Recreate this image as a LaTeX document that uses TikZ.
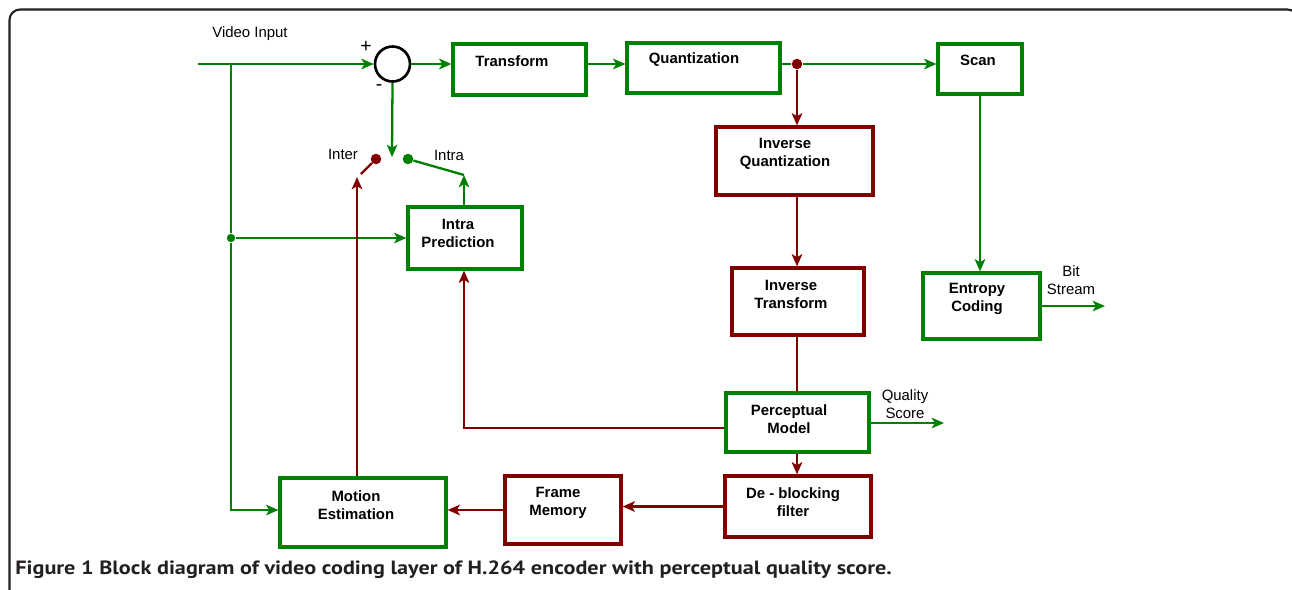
\documentclass[tikz,border=0pt]{standalone}
\usepackage{fontspec}
\setmainfont{Liberation Sans}
\newfontfamily\capfont{PT Sans}
\usetikzlibrary{arrows.meta}
\definecolor{grn}{RGB}{0,128,0}
\definecolor{drd}{RGB}{128,0,0}
\definecolor{frm}{RGB}{35,31,32}
\tikzset{
  wh/.style 2 args={minimum width=#1*0.02cm, minimum height=#2*0.02cm},
  gbox/.style={draw=grn, line width=1.8pt, inner sep=0pt},
  rbox/.style={draw=drd, line width=1.8pt, inner sep=0pt},
  txt/.style={font=\fontsize{8.5}{10.2}\selectfont\bfseries, align=center, inner sep=0pt},
  lbl/.style={font=\fontsize{8.5}{10.2}\selectfont, align=center, inner sep=0pt},
  gline/.style={draw=grn, line width=1.3pt},
  rline/.style={draw=drd, line width=1.3pt},
  arr/.style={-{Stealth[length=7pt,width=6pt,inset=1.8pt]}},
  dot/.style={circle, fill=#1, inner sep=0pt, minimum size=6pt},
}
\begin{document}
\begin{tikzpicture}[x=0.02cm, y=-0.02cm]
    \useasboundingbox (0,0) rectangle (1292,589);
    \begin{scope}
        \clip (0,0) rectangle (1292,589);
        \draw[frm, line width=1.2pt, rounded corners=6pt] (9.5,620) -- (9.5,9.5) -- (1298,9.5) -- (1298,620);
    \end{scope}

    \node[gbox, wh={133}{51}] (TR) at (519.5,69.5) {};
    \node[gbox, wh={153}{50}] (Q)  at (703.5,68) {};
    \node[gbox, wh={84}{50}]  (SC) at (980,69) {};
    \node[rbox, wh={157}{68}] (IQ) at (794.5,161) {};
    \node[rbox, wh={132}{67}] (IT) at (798,301.5) {};
    \node[gbox, wh={117}{66}] (EC) at (981.5,306) {};
    \node[gbox, wh={143}{59}] (PM) at (797.5,422.5) {};
    \node[gbox, wh={114}{62}] (IP) at (465,238) {};
    \node[gbox, wh={166}{69}] (ME) at (363,512.5) {};
    \node[rbox, wh={116}{68}] (FM) at (563,510) {};
    \node[rbox, wh={146}{61}] (DB) at (798,506.5) {};

    \node[txt] (TRt) at (512,61) {Transform};
    \node[txt] (Qt)  at (694,60) {Quantization};
    \node[txt] (SCt) at (978,60) {Scan};
    \node[txt] (IQt) at (785,153.5) {Inverse\\Quantization};
    \node[txt] (ITt) at (791,294) {Inverse\\Transform};
    \node[txt] (ECt) at (977,298.5) {Entropy\\Coding};
    \node[txt] (PMt) at (789,419) {Perceptual\\Model};
    \node[txt] (IPt) at (458,233) {Intra\\Prediction};
    \node[txt] (MEt) at (356,505) {Motion\\Estimation};
    \node[txt] (FMt) at (558,502.5) {Frame\\Memory};
    \node[txt] (DBt) at (793,502.5) {De - blocking\\filter};

    \node[circle, draw=black, line width=1.5pt, minimum size=35*0.02cm, inner sep=0pt] (SUM) at (392.5,64) {};
    \node[dot=drd] (QD) at (797,64) {};
    \node[dot=drd] (ID) at (376,159) {};
    \node[dot=grn] (AD) at (408,159) {};
    \node[dot=grn, minimum size=4.8pt] (J2) at (231,238) {};

    \coordinate (VI) at (198,64);
    \coordinate (J1) at (231,64);
    \coordinate (J3) at (231,510);
    \coordinate (SW) at (392,157);
    \coordinate (K1) at (464,428);
    \coordinate (K3) at (357,177);
    \coordinate (K4) at (361,174);
    \coordinate (K5) at (464,175);
    \coordinate (BS) at (1105,304);
    \coordinate (QS) at (944,423);

    \draw[gline, arr] (VI) -- (SUM.west);
    \draw[gline] (J1) -- (J2);
    \draw[gline, arr] (J2) -- (J3) -- (J3 -| ME.west);
    \draw[gline, arr] (J2) -- (IP.west);
    \draw[gline, arr] (SUM.east) -- (SUM.east -| TR.west);
    \draw[gline, arr] (TR.east |- SUM) -- (Q.west |- SUM);
    \draw[gline] (Q.east |- QD) -- (QD);
    \draw[gline, arr] (QD) -- (QD -| SC.west);
    \draw[gline, arr] (SC.south) -- (SC.south |- EC.north);
    \draw[gline, arr] (EC.east) -- (EC.east -| BS);
    \draw[gline, arr] (PM.east |- QS) -- (QS);
    \draw[gline, arr] (SUM.south) -- (SW);
    \draw[gline] (AD) -- (K5);
    \draw[gline, arr] (IP.north -| K5) -- (K5);

    \draw[rline, arr] (QD) -- (QD |- IQ.north);
    \draw[rline, arr] (IQ.south -| QD) -- (IT.north -| QD);
    \draw[rline] (IT.south -| QD) -- (PM.north -| QD);
    \draw[rline, arr] (PM.south -| QD) -- (DB.north -| QD);
    \draw[rline, arr] (PM.west |- K1) -- (K1) -- (K1 |- IP.south);
    \draw[rline, arr] (DB.west) -- (DB.west -| FM.east);
    \draw[rline, arr] (FM.west) -- (FM.west -| ME.east);
    \draw[rline, arr] (ME.north -| K3) -- (K3);
    \draw[rline] (K4) -- (ID);

    \node[lbl] (VIt) at (250,34) {Video Input};
    \node[lbl, font=\fontsize{11}{12}\selectfont] (PL) at (366,47) {+};
    \node[lbl, font=\fontsize{11}{12}\selectfont] (MI) at (379,88) {-};
    \node[lbl] (INt) at (343,154) {Inter};
    \node[lbl] (ANt) at (449,155) {Intra};
    \node[lbl] (BSt) at (1071,280) {Bit\\Stream};
    \node[lbl] (QSt) at (905,404) {Quality\\Score};

    \node[anchor=base west, inner sep=0pt, text=frm] (CAP) at (15,574)
        {\resizebox{498.9pt}{7.8pt}{\capfont\bfseries Figure 1 Block diagram of video coding layer of H.264 encoder with perceptual quality score.}};
\end{tikzpicture}
\end{document}
